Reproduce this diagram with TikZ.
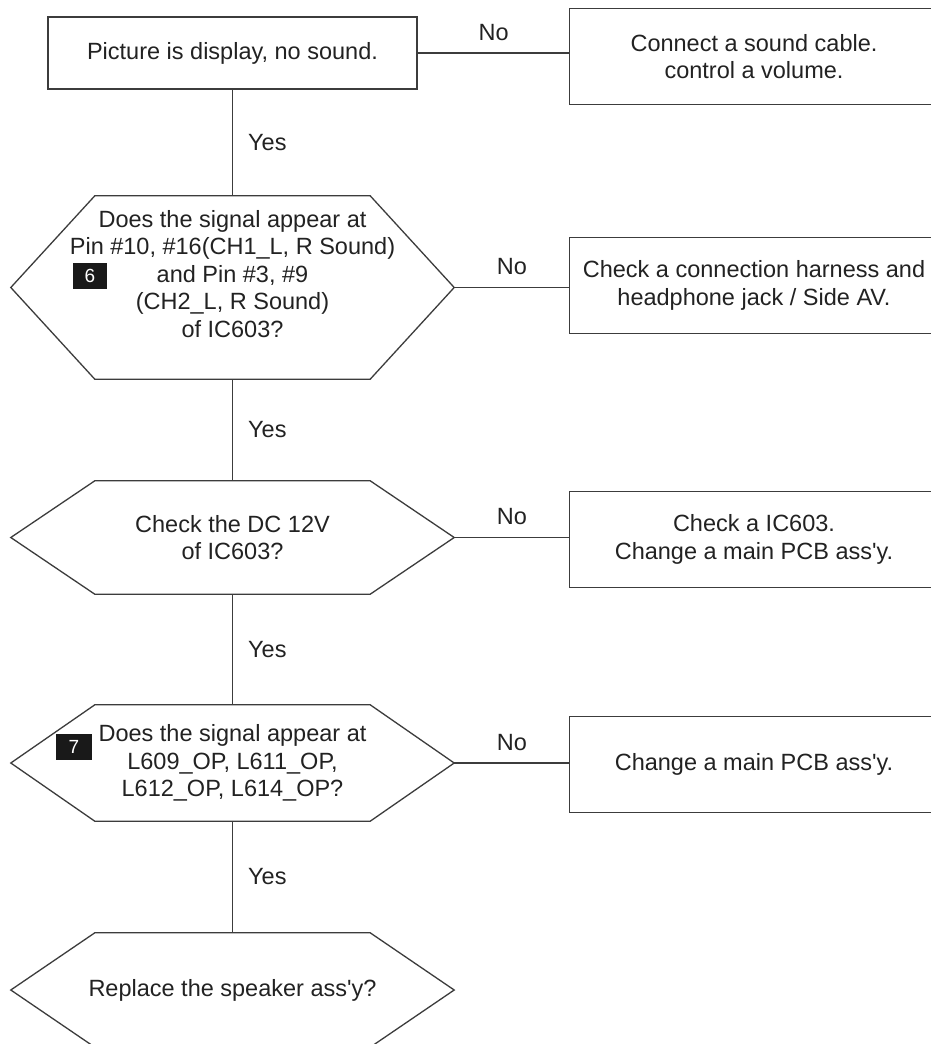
\documentclass[tikz,border=0pt]{standalone}
\usepackage{fontspec}
\setmainfont{Liberation Sans}[Ligatures=TeXOff]
\usetikzlibrary{calc}
\definecolor{ln}{HTML}{3C3C3C}
\definecolor{tx}{HTML}{222222}
\begin{document}
\begin{tikzpicture}[x=1pt,y=-1pt,
  every node/.style={text=tx, font=\fontsize{23.5}{27.5}\selectfont},
  line/.style={draw=ln, line width=1.3pt},
  box/.style={draw=ln, line width=1.3pt, rectangle, inner sep=0pt, align=center},
  openbox/.style={rectangle, inner sep=0pt, align=center, minimum width=368pt, minimum height=95pt},
  hexnode/.style={rectangle, inner sep=0pt, minimum width=443pt, align=center},
  badge/.style={fill=black!90, text=white, inner sep=0pt, minimum height=26pt, font=\fontsize{19}{19}\selectfont},
  yeslbl/.style={anchor=west, xshift=15pt, inner sep=0pt},
  nolbl/.style={anchor=south, yshift=12pt, inner sep=0pt}]
\useasboundingbox (0,0) rectangle (930,1044);
\fill[white] (0,0) rectangle (930,1044);

% left column
\node[box, minimum width=369pt, minimum height=72pt] (start) at (232.5,53) {Picture is display, no sound.};
\node[hexnode, minimum height=183pt] (h1) at (232.5,287.5) {Does the signal appear at\\Pin \#10, \#16(CH1\_L, R Sound)\\and Pin \#3, \#9\\(CH2\_L, R Sound)\\of IC603?\\\mbox{}};
\node[hexnode, minimum height=113pt] (h2) at (232.5,537.5) {Check the DC 12V\\of IC603?};
\node[hexnode, minimum height=116pt] (h3) at (232.5,763) {Does the signal appear at\\L609\_OP, L611\_OP,\\L612\_OP, L614\_OP?};
\node[hexnode, minimum height=114pt] (h4) at (232.5,990) {Replace the speaker ass'y?};

% right column (boxes run past the right edge of the page)
\node[openbox] (r1) at (754,56.5) {Connect a sound cable.\\control a volume.};
\node[openbox] (r2) at (754,285.5) {Check a connection harness and\\headphone jack / Side AV.};
\node[openbox] (r3) at (754,539.5) {Check a IC603.\\Change a main PCB ass'y.};
\node[openbox] (r4) at (754,764.5) {Change a main PCB ass'y.};
\foreach \n in {r1,r2,r3,r4}
  \draw[line] (\n.north west) rectangle ($(\n.south east)+(40,0)$);

% hexagon outlines
\foreach \n in {h1,h2,h3,h4}
  \draw[line] ($(\n.north west)+(84,0)$) -- ($(\n.north east)+(-84,0)$) -- (\n.east)
    -- ($(\n.south east)+(-84,0)$) -- ($(\n.south west)+(84,0)$) -- (\n.west) -- cycle;

% badges
\node[badge, minimum width=34pt] (b6) at (90,276) {6};
\node[badge, minimum width=36pt] (b7) at (74,747) {7};

% connectors
\draw[line] (start.east) -- (start.east -| r1.west) node[nolbl, midway] {No};
\draw[line] (h1.east) -- (h1.east -| r2.west) node[nolbl, midway] {No};
\draw[line] (h2.east) -- (h2.east -| r3.west) node[nolbl, midway] {No};
\draw[line] (h3.east) -- (h3.east -| r4.west) node[nolbl, midway] {No};
\draw[line] (start.south) -- (h1.north) node[yeslbl, midway] {Yes};
\draw[line] (h1.south) -- (h2.north) node[yeslbl, midway] {Yes};
\draw[line] (h2.south) -- (h3.north) node[yeslbl, midway] {Yes};
\draw[line] (h3.south) -- (h4.north) node[yeslbl, midway] {Yes};
\end{tikzpicture}
\end{document}
